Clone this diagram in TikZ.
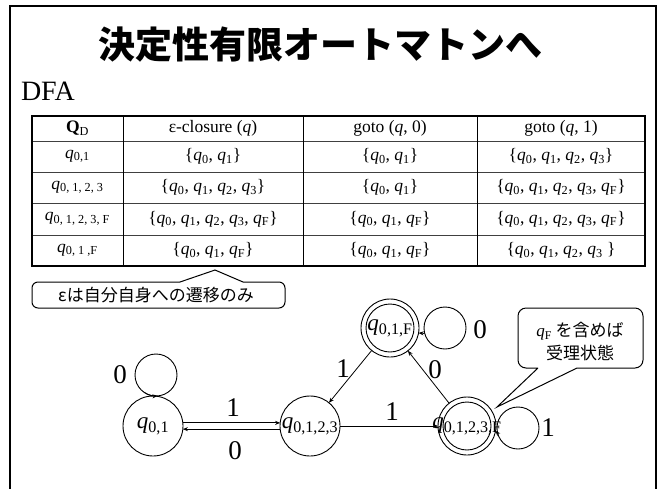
\documentclass[tikz,border=0pt]{standalone}
\usepackage{fontspec}
\setmainfont{Liberation Serif}
\newfontfamily\jp{Noto Sans CJK JP}
\usetikzlibrary{arrows.meta}
\newcommand\qv[1]{{\rmfamily\textit{q}\textsubscript{#1}}}
\begin{document}
\begin{tikzpicture}[x=1pt,y=-1pt,
  every node/.style={inner sep=0pt, outer sep=0pt},
  cell/.style={font=\fontsize{17.5}{19}\selectfont, anchor=center},
  stbox/.style={circle, draw, line width=0.9pt, minimum size=60pt},
  accbox/.style={circle, draw, line width=0.9pt, minimum size=58pt},
  innerc/.style={circle, draw, line width=0.9pt, minimum size=48pt},
  slabel/.style={font=\fontsize{23}{25}\selectfont},
  elabel/.style={font=\fontsize{27}{29}\selectfont},
  loopc/.style={circle, draw, line width=0.9pt, minimum size=42pt},
  tr/.style={line width=0.8pt, -{Stealth[length=5pt,width=4pt]}},
  cbox/.style={draw, line width=1pt},
  jtext/.style={font=\jp\fontsize{17}{23}\selectfont, align=center},
  tline/.style={line width=0.9pt, black!75},
]
\useasboundingbox (0,0) rectangle (666,488);
\clip (0,0) rectangle (666,488);
% frame
\draw[line width=2.5pt] (10,6) rectangle (656,500);
% title
\node[font=\jp\bfseries\fontsize{37}{40}\selectfont] (title) at (320,45) {決定性有限オートマトンへ};
\node[anchor=west, font=\fontsize{28}{30}\selectfont] (dfa) at (21,91) {DFA};
% table grid
\foreach \yy in {141,172,203,235} \draw[tline] (32,\yy) -- (645,\yy);
\foreach \xx in {123,303,477} \draw[line width=0.9pt] (\xx,116) -- (\xx,266);
\draw[line width=1.5pt] (32,116) rectangle (645,266);
% header
\node[cell] (h1) at (77.5,128.5) {\textbf{Q}\textsubscript{D}};
\node[cell] (h2) at (213,128.5) {ε-closure (\textit{q})};
\node[cell] (h3) at (390,128.5) {goto (\textit{q}, 0)};
\node[cell] (h4) at (561,128.5) {goto (\textit{q}, 1)};
% row 1
\node[cell] (r1c1) at (77.5,156.5) {\qv{0,1}};
\node[cell] (r1c2) at (213,156.5) {\{\qv{0}, \qv{1}\}};
\node[cell] (r1c3) at (390,156.5) {\{\qv{0}, \qv{1}\}};
\node[cell] (r1c4) at (561,156.5) {\{\qv{0}, \qv{1}, \qv{2}, \qv{3}\}};
% row 2
\node[cell] (r2c1) at (77.5,187.5) {\qv{0, 1, 2, 3}};
\node[cell] (r2c2) at (213,187.5) {\{\qv{0}, \qv{1}, \qv{2}, \qv{3}\}};
\node[cell] (r2c3) at (390,187.5) {\{\qv{0}, \qv{1}\}};
\node[cell] (r2c4) at (561,187.5) {\{\qv{0}, \qv{1}, \qv{2}, \qv{3}, \qv{F}\}};
% row 3
\node[cell] (r3c1) at (77.5,219) {\qv{0, 1, 2, 3, F}};
\node[cell] (r3c2) at (213,219) {\{\qv{0}, \qv{1}, \qv{2}, \qv{3}, \qv{F}\}};
\node[cell] (r3c3) at (390,219) {\{\qv{0}, \qv{1}, \qv{F}\}};
\node[cell] (r3c4) at (561,219) {\{\qv{0}, \qv{1}, \qv{2}, \qv{3}, \qv{F}\}};
% row 4
\node[cell] (r4c1) at (77.5,250.5) {\qv{0, 1 ,F}};
\node[cell] (r4c2) at (213,250.5) {\{\qv{0}, \qv{1}, \qv{F}\}};
\node[cell] (r4c3) at (390,250.5) {\{\qv{0}, \qv{1}, \qv{F}\}};
\node[cell] (r4c4) at (561,250.5) {\{\qv{0}, \qv{1}, \qv{2}, \qv{3} \}};
% callout 1
\draw[cbox] (180,282) -- (215,270) -- (243,282) [rounded corners=6pt] -- (285,282) -- (285,308) -- (32,308) -- (32,282) -- (180,282);
\node[jtext] (c1) at (156,295) {εは自分自身への遷移のみ};
% callout 2
\draw[cbox] (538,368) -- (497,407) -- (577,368) [rounded corners=8pt] -- (643,368) -- (643,308) -- (518,308) -- (518,368) -- (538,368);
\node[jtext] (c2) at (580,341.5) {\qv{F} を含めば\\受理状態};
% states
\node[stbox] (q01) at (153,426) {};
\node[slabel] (l01) at (q01) {\qv{0,1}};
\node[stbox] (q0123) at (310,426) {};
\node[slabel] (l0123) at (q0123) {\qv{0,1,2,3}};
\node[accbox] (q01F) at (390,328) {};
\node[innerc] (q01Fi) at (q01F) {};
\node[slabel] (l01F) at (q01F) {\qv{0,1,F}};
\node[accbox] (q0123F) at (467,426) {};
\node[innerc] (q0123Fi) at (q0123F) {};
\node[slabel] (l0123F) at (q0123F) {\qv{0,1,2,3,F}};
% loops
\node[loopc] (lp1) at (156,375) {};
\draw[tr] (lp1.-125) arc[start angle=125, end angle=86, radius=21];
\node[loopc] (lp2) at (445,328) {};
\draw[tr] (lp2.195) -- (q01F.-10);
\node[loopc] (lp3) at (518,428) {};
\draw[tr] (lp3.195) -- (q0123F.-10);
% edges
\draw[tr] (q01.6) -- (q0123.174);
\draw[tr] (q0123.-174) -- (q01.-6);
\draw[tr] (q0123) -- (q0123F);
\draw[tr] (q01F) -- (q0123);
\draw[tr] (q0123F) -- (q01F);
% edge labels
\node[elabel] (e1) at (233,408) {1};
\node[elabel] (e2) at (235,451) {0};
\node[elabel] (e3) at (392,412) {1};
\node[elabel] (e4) at (343,369) {1};
\node[elabel] (e5) at (435,370) {0};
\node[elabel] (e6) at (120,375) {0};
\node[elabel] (e7) at (480,330) {0};
\node[elabel] (e8) at (548,428) {1};
\end{tikzpicture}
\end{document}
